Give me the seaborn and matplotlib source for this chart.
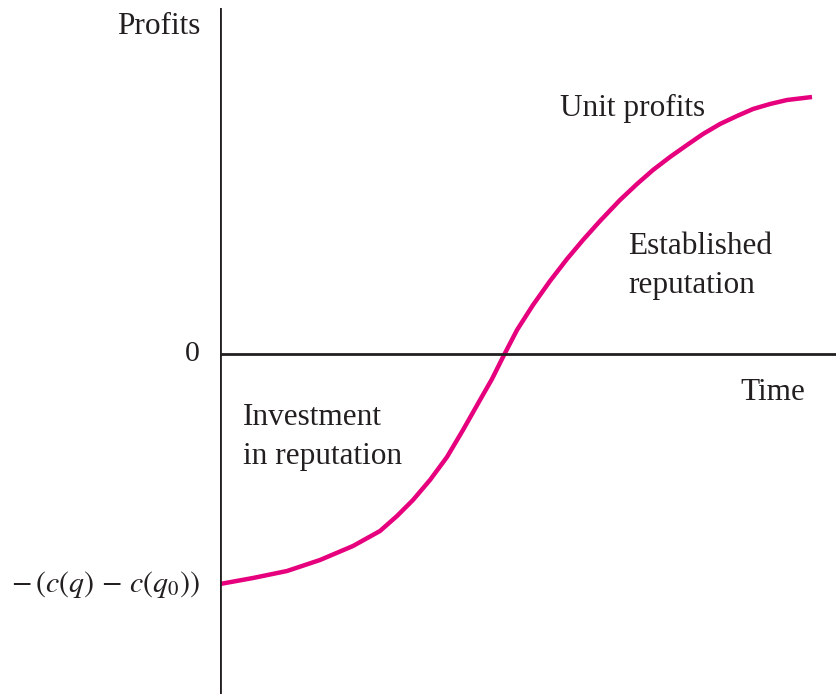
import numpy as np
import pandas as pd
import matplotlib
matplotlib.use("Agg")
import matplotlib.pyplot as plt
import seaborn as sns

# curve (time, profits), origin at the axes crossing
time = [0, 33, 67, 100, 133, 160, 177, 193, 210, 227, 243, 260, 272, 283,
        297, 313, 330, 347, 363, 380, 400, 417, 433, 450, 467, 483, 500,
        517, 533, 550, 567, 592]
profit = [-230, -224, -217, -206, -192, -177, -162, -146, -126, -103, -76,
          -46, -25, -3, 24, 49, 73, 95, 114, 133, 154, 170, 184, 197, 209,
          220, 230, 238, 245, 250, 254, 257]

y_tick_vals = [0, -230]
y_tick_labels = ["0", r"$-\,(c(q)\,-\,c(q_0))$"]

df = pd.DataFrame({"time": time, "profit": profit})

sns.set_style("white")
plt.rcParams["font.family"] = ["Liberation Serif", "DejaVu Serif"]
plt.rcParams["mathtext.fontset"] = "stix"
txt_col = "#231f20"

fig = plt.figure(figsize=(8.37, 6.94), dpi=100)
ax = fig.add_axes([220 / 837, 0, 617 / 837, 686 / 694])
ax.set_xlim(0, 617)
ax.set_ylim(-340, 346)

sns.lineplot(data=df, x="time", y="profit", ax=ax, color="#e6007e",
             linewidth=3.2, sort=False, solid_joinstyle="round",
             solid_capstyle="butt")

for s in ax.spines.values():
    s.set_visible(False)
ax.axvline(0, color=txt_col, lw=2)
ax.axhline(0, color=txt_col, lw=2)
ax.set_xticks([])
ax.set_yticks([])
ax.set_xlabel("")
ax.set_ylabel("")

fs = 22.5
ax.text(-20, 328, "Profits", ha="right", va="center", fontsize=fs,
        color=txt_col)
for v, lab in zip(y_tick_vals, y_tick_labels):
    ax.text(-20, v, lab, ha="right", va="center", fontsize=21.5,
            color=txt_col, clip_on=False)

ax.text(340, 246, "Unit profits", ha="left", va="center", fontsize=fs,
        color=txt_col)
ax.text(408, 88, "Established\nreputation", ha="left", va="center",
        fontsize=fs, linespacing=1.45, color=txt_col)
ax.text(520, -38, "Time", ha="left", va="center", fontsize=fs,
        color=txt_col)
ax.text(23, -83, "Investment\nin reputation", ha="left", va="center",
        fontsize=fs, linespacing=1.45, color=txt_col)

fig.savefig("out.png", dpi=100)
